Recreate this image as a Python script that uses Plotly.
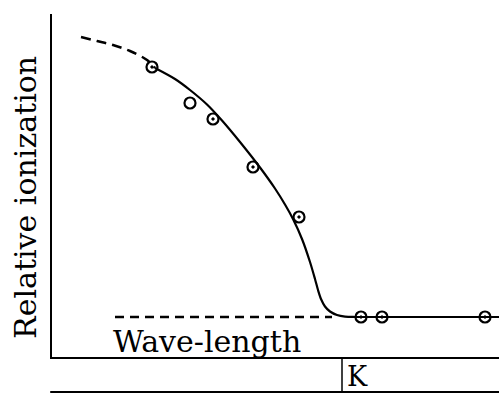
import plotly.graph_objects as go

# Wave-length (arbitrary units) and relative ionization (arbitrary units)
curve_x = [103, 123, 138, 155, 170, 188, 208, 223, 233, 241, 250, 258, 263, 266, 269, 273, 278, 285, 293, 303, 447]
curve_y = [289, 278, 267, 252.5, 236.5, 215, 189.5, 168.5, 152.5, 138, 118, 95, 78, 67, 58, 50.5, 45.5, 42, 40.4, 40, 40]

extrap_x = [29, 45, 61, 78, 95, 103]
extrap_y = [320, 316, 312, 306, 297, 289]

base_x = [63, 280]
base_y = [40, 40]

dot_x = [100, 161, 201, 247, 309, 330, 433]
dot_y = [290, 238, 190, 140, 40, 40, 40]

open_x = [138]
open_y = [254]

k_edge_x = 290

FONT = "DejaVu Serif"

fig = go.Figure()
fig.add_trace(go.Scatter(x=extrap_x, y=extrap_y, mode="lines",
                         line=dict(color="black", width=2.5, dash="10px,6px", shape="spline"),
                         hoverinfo="skip"))
fig.add_trace(go.Scatter(x=base_x, y=base_y, mode="lines",
                         line=dict(color="black", width=2.5, dash="9px,6px"),
                         hoverinfo="skip"))
fig.add_trace(go.Scatter(x=curve_x, y=curve_y, mode="lines",
                         line=dict(color="black", width=2.2, shape="spline", smoothing=0.8),
                         hoverinfo="skip"))
fig.add_trace(go.Scatter(x=dot_x, y=dot_y, mode="markers",
                         marker=dict(symbol="circle-open-dot", size=11, color="black",
                                     line=dict(color="black", width=2.2))))
fig.add_trace(go.Scatter(x=open_x, y=open_y, mode="markers",
                         marker=dict(symbol="circle-open", size=11, color="black",
                                     line=dict(color="black", width=2.2))))

fig.update_xaxes(range=[0, 447], showline=True, linecolor="black", linewidth=2,
                 showgrid=False, zeroline=False, showticklabels=False, ticks="")
fig.update_yaxes(range=[0, 343], showline=True, linecolor="black", linewidth=2,
                 showgrid=False, zeroline=False, showticklabels=False, ticks="")

fig.add_shape(type="line", xref="paper", yref="paper", x0=-0.004, x1=1, y0=-0.102, y1=-0.102,
              line=dict(color="black", width=2))
fig.add_shape(type="line", xref="x", yref="paper", x0=k_edge_x, x1=k_edge_x, y0=0, y1=-0.102,
              line=dict(color="black", width=1.5))

fig.add_annotation(text="Relative ionization", xref="paper", yref="paper", x=-0.061, y=0.466,
                   xanchor="center", yanchor="middle",
                   textangle=-90, showarrow=False, font=dict(family=FONT, size=30, color="black"))
fig.add_annotation(text="Wave-length", xref="x", yref="y", x=155, y=16, showarrow=False,
                   xanchor="center", yanchor="middle",
                   font=dict(family=FONT, size=30, color="black"))
fig.add_annotation(text="K", xref="x", yref="paper", x=305, y=-0.058, showarrow=False,
                   xanchor="center", yanchor="middle",
                   font=dict(family=FONT, size=27, color="black"))

fig.update_layout(width=499, height=393, margin=dict(l=52, r=0, t=14, b=36),
                  plot_bgcolor="white", paper_bgcolor="white", showlegend=False)

fig.write_html("out.html")
